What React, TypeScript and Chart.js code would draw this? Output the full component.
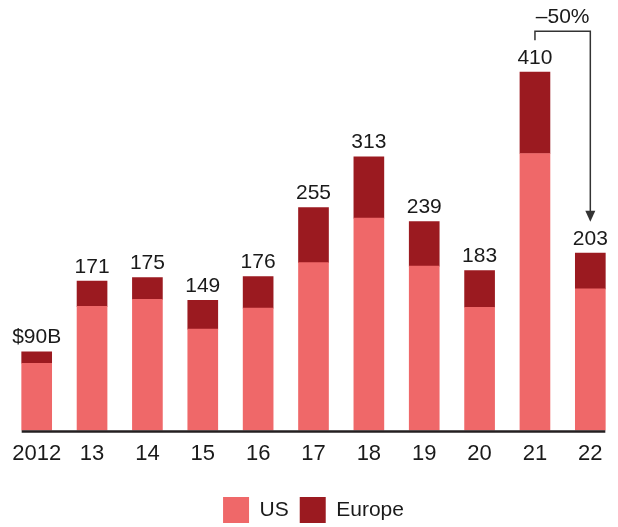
import React, { useEffect, useRef } from "react";
import { Chart, registerables } from "chart.js";

Chart.register(...registerables);

const categories = ["2012", "13", "14", "15", "16", "17", "18", "19", "20", "21", "22"];
const usValues = [77, 142, 150, 116, 140, 192, 243, 188, 141, 317, 162];
const europeValues = [13, 29, 25, 33, 36, 63, 70, 51, 42, 93, 41];
const totalLabels = ["$90B", "171", "175", "149", "176", "255", "313", "239", "183", "410", "203"];
const changeLabel = "–50%";
const changeFrom = 9;
const changeTo = 10;

const US_COLOR = "#EF6869";
const EU_COLOR = "#9B1A20";
const TEXT = "#1a1a1a";
const FONT = "'Liberation Sans', Arial, Helvetica, sans-serif";

const overlay = {
  id: "overlay",
  afterDatasetsDraw(chart: any) {
    const ctx = chart.ctx;
    const y = chart.scales.y;
    const m0 = chart.getDatasetMeta(0);
    const m1 = chart.getDatasetMeta(1);
    const bars0 = m0.data;
    const bars1 = m1.data;
    ctx.save();
    // axis line
    const first = bars0[0];
    const last = bars0[bars0.length - 1];
    const base = y.getPixelForValue(0);
    ctx.strokeStyle = "#231f20";
    ctx.lineWidth = 2.5;
    ctx.beginPath();
    ctx.moveTo(first.x - first.width / 2, base + 1);
    ctx.lineTo(last.x + last.width / 2, base + 1);
    ctx.stroke();
    // value labels
    ctx.fillStyle = TEXT;
    ctx.font = `21px ${FONT}`;
    ctx.textAlign = "center";
    ctx.textBaseline = "alphabetic";
    bars1.forEach((b: any, i: number) => {
      ctx.fillText(totalLabels[i], b.x, b.y - 8.5);
    });
    // annotation bracket
    const a = bars1[changeFrom];
    const c = bars1[changeTo];
    const lineY = a.y - 41;
    const tipY = c.y - 31.3;
    ctx.strokeStyle = "#333";
    ctx.lineWidth = 1.5;
    ctx.beginPath();
    ctx.moveTo(a.x, a.y - 32);
    ctx.lineTo(a.x, lineY);
    ctx.lineTo(c.x, lineY);
    ctx.lineTo(c.x, tipY - 8);
    ctx.stroke();
    ctx.fillStyle = "#333";
    ctx.beginPath();
    ctx.moveTo(c.x - 5, tipY - 11);
    ctx.lineTo(c.x + 5, tipY - 11);
    ctx.lineTo(c.x, tipY);
    ctx.closePath();
    ctx.fill();
    ctx.fillStyle = TEXT;
    ctx.font = `21px ${FONT}`;
    ctx.textAlign = "center";
    ctx.fillText(changeLabel, (a.x + c.x) / 2, lineY - 8.5);
    ctx.restore();
  },
};

export default function App() {
  const ref = useRef<HTMLCanvasElement | null>(null);
  useEffect(() => {
    if (!ref.current) return;
    const chart = new Chart(ref.current, {
      type: "bar",
      data: {
        labels: categories,
        datasets: [
          { label: "US", data: usValues, backgroundColor: US_COLOR, barThickness: 30 },
          { label: "Europe", data: europeValues, backgroundColor: EU_COLOR, barThickness: 30 },
        ],
      },
      options: {
        responsive: false,
        animation: false,
        layout: { padding: { left: 9, right: 0, top: 11, bottom: -6 } },
        scales: {
          x: {
            stacked: true,
            grid: { display: false, drawTicks: false },
            border: { display: false },
            ticks: { color: TEXT, font: { size: 22, family: FONT }, padding: 10 },
            afterFit: (s: any) => {
              s.height = 55.5;
            },
          },
          y: {
            stacked: true,
            display: false,
            min: 0,
            max: 480,
          },
        },
        plugins: {
          legend: {
            position: "bottom",
            labels: {
              boxWidth: 26,
              boxHeight: 26,
              padding: 11,
              color: TEXT,
              font: { size: 21, family: FONT },
            },
          },
          tooltip: { enabled: false },
        },
      },
      plugins: [overlay],
    });
    return () => chart.destroy();
  }, []);
  return (
    <div style={{ position: "absolute", left: 0, top: 0, width: 618, height: 527, background: "#fff" }}>
      <canvas ref={ref} width={618} height={527} />
    </div>
  );
}
